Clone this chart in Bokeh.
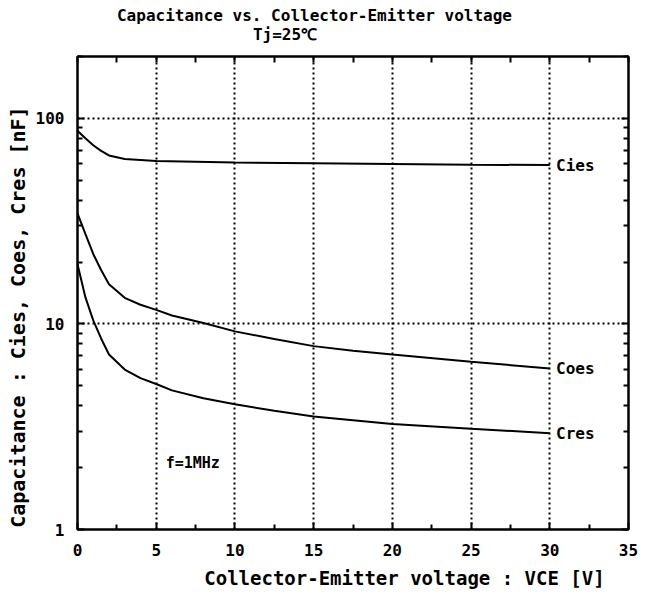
from bokeh.plotting import figure
from bokeh.models import (Range1d, FixedTicker, LinearAxis, LogAxis)
from bokeh.core.properties import value
from bokeh.embed import file_html
from bokeh.resources import INLINE

# ---- data ----
v_cies = [0, 0.5, 1, 1.5, 2, 3, 5, 10, 15, 20, 25, 30]
c_cies = [87, 80, 74, 69.5, 66, 63.5, 62, 61, 60.5, 60, 59.5, 59.3]

v_coes = [0, 0.5, 1, 1.5, 2, 3, 4, 5, 6, 8, 10, 12.5, 15, 17.5, 20, 25, 30]
c_coes = [34.5, 27.4, 21.9, 18.3, 15.6, 13.4, 12.4, 11.7, 11.0, 10.1, 9.2, 8.45, 7.8, 7.4, 7.1, 6.55, 6.07]

v_cres = [0, 0.5, 1, 1.5, 2, 3, 4, 5, 6, 8, 10, 12.5, 15, 17.5, 20, 25, 30]
c_cres = [19.5, 13.5, 10.4, 8.5, 7.1, 6.0, 5.45, 5.1, 4.75, 4.35, 4.07, 3.78, 3.55, 3.4, 3.26, 3.09, 2.94]

series_names = ["Cies", "Coes", "Cres"]

x_ticks = [0, 5, 10, 15, 20, 25, 30, 35]
x_minor = [2.5, 7.5, 12.5, 17.5, 22.5, 27.5, 32.5]
x_top_minor = [0, 2.5, 5, 7.5, 10, 12.5, 15, 17.5, 20, 22.5, 25, 27.5, 30, 32.5, 35]
x_grid = [5, 10, 15, 20, 25, 30]
y_ticks = [1, 10, 100]
y_minor = [2, 3, 4, 5, 6, 7, 8, 9, 20, 30, 40, 50, 60, 70, 80, 90, 200]
y_grid = [10, 100]

title_main = "Capacitance vs. Collector-Emitter voltage"
title_sub = "Tj=25\u2103"
sub_pos = 13.18
x_label = "Collector-Emitter voltage : VCE [V]"
y_label = "Capacitance : Cies, Coes, Cres [nF]"
note = "f=1MHz"

FONT = "DejaVu Sans Mono"
NB = "\u00a0"

p = figure(width=645, height=595, x_range=Range1d(0, 35), y_range=Range1d(1, 200),
           y_axis_type="log", output_backend="svg", toolbar_location=None,
           title=None,
           min_border_left=77, min_border_right=17, min_border_top=56, min_border_bottom=66)
p.background_fill_color = "white"
p.border_fill_color = "white"
p.outline_line_color = "black"
p.outline_line_width = 2

xt = FixedTicker(ticks=x_ticks, minor_ticks=x_minor)
yt = FixedTicker(ticks=y_ticks, minor_ticks=y_minor)

def style_axis(ax, show_labels):
    ax.axis_line_color = "black"
    ax.axis_line_width = 2
    ax.major_tick_in = 7
    ax.major_tick_out = 0
    ax.minor_tick_in = 5
    ax.minor_tick_out = 0
    ax.major_tick_line_width = 2
    ax.minor_tick_line_width = 2
    ax.major_tick_line_color = "black"
    ax.minor_tick_line_color = "black"
    if show_labels:
        ax.major_label_text_font = FONT
        ax.major_label_text_font_style = "bold"
        ax.major_label_text_font_size = "16px"
        ax.major_label_text_color = "black"
        ax.axis_label_text_font = FONT
        ax.axis_label_text_font_style = "bold"
        ax.axis_label_text_color = "black"
    else:
        ax.major_label_text_font_size = "0px"
        ax.major_label_text_color = None

xa = p.xaxis[0]
xa.ticker = xt
style_axis(xa, True)
xa.axis_label = NB * 9 + x_label
xa.axis_label_text_font_size = "19px"
xa.major_label_standoff = 14
xa.axis_label_standoff = 8

ya = p.yaxis[0]
ya.ticker = yt
style_axis(ya, True)
ya.major_label_overrides = {1: "1", 10: "10", 100: "100"}
ya.axis_label = y_label + NB * 4
ya.axis_label_text_font_size = "20px"
ya.major_label_standoff = 13
ya.axis_label_standoff = 3

# top axis: tick marks of the frame, and it carries the two title lines
top_ax = LinearAxis(ticker=FixedTicker(ticks=[sub_pos], minor_ticks=x_top_minor))
style_axis(top_ax, True)
top_ax.major_tick_in = 0
top_ax.major_tick_line_color = None
top_ax.minor_tick_in = 6
top_ax.major_label_overrides = {sub_pos: title_sub}
top_ax.major_label_standoff = 13
top_ax.axis_label = title_main + NB * 8
top_ax.axis_label_text_font_size = "16px"
top_ax.axis_label_standoff = -3
p.add_layout(top_ax, "above")

right_ax = LogAxis(ticker=yt)
style_axis(right_ax, False)
p.add_layout(right_ax, "right")

p.xgrid.ticker = FixedTicker(ticks=x_grid)
p.ygrid.ticker = FixedTicker(ticks=y_grid)
for g in (p.xgrid, p.ygrid):
    g.grid_line_color = "black"
    g.grid_line_width = 2
    g.grid_line_dash = "2 3"

for vs, cs in ((v_cies, c_cies), (v_coes, c_coes), (v_cres, c_cres)):
    p.line(vs, cs, line_color="black", line_width=2)

p.text(x=[30.4, 30.4, 30.4], y=[c_cies[-1], c_coes[-1], c_cres[-1]], text=series_names,
       text_font=value(FONT), text_font_size="16px", text_font_style="bold",
       text_baseline="middle", text_align="left", text_color="black")

p.text(x=[5.6], y=[2.1], text=[note], text_font=value(FONT), text_font_size="15px",
       text_font_style="bold", text_baseline="middle", text_align="left", text_color="black")

open("out.html", "w").write(file_html(p, INLINE))
